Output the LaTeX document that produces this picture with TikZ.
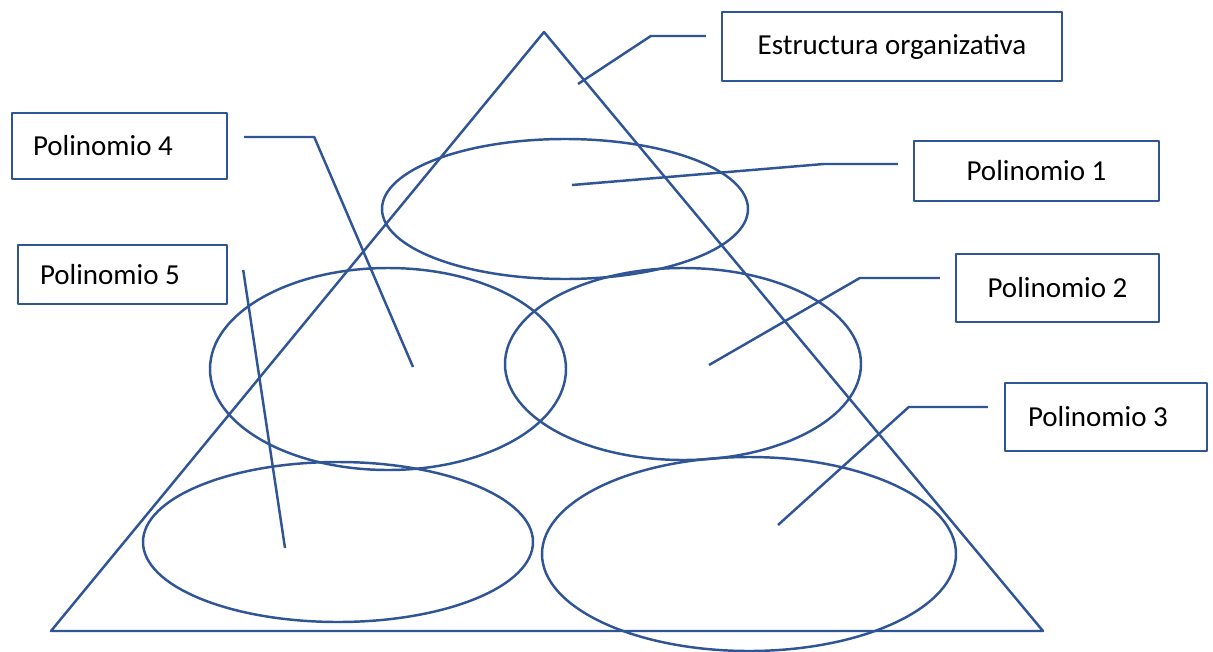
\documentclass[tikz,border=0pt]{standalone}
\usepackage{fontspec}
\setmainfont{Carlito}
\definecolor{orgblue}{HTML}{2F5597}
\tikzset{
  orgbox/.style={draw=orgblue, line width=1.4pt, fill=white, inner sep=0pt,
    font=\fontsize{16.5}{19}\selectfont},
  leader/.style={draw=orgblue, line width=1.4pt},
}

\begin{document}
\begin{tikzpicture}[x=0.02cm, y=-0.02cm, line join=round]
            \useasboundingbox[fill=white] (0,0) rectangle (1213,652);
            \draw[leader] (544,32) -- (1043,631) -- (51,631) -- cycle;
            \draw[leader] (565,209) ellipse [x radius=183, y radius=70];
            \draw[leader] (388,369) ellipse [x radius=178, y radius=101];
            \draw[leader] (683,364) ellipse [x radius=178, y radius=96];
            \draw[leader] (338,542) ellipse [x radius=195, y radius=80];
            \draw[leader] (749,554) ellipse [x radius=207, y radius=97];
            \node[orgbox, minimum width=6.8cm, minimum height=1.38cm] (est) at (892,46.5) {Estructura organizativa};
            \node[orgbox, minimum width=4.9cm, minimum height=1.2cm] (pol1) at (1036.5,171) {Polinomio 1};
            \node[orgbox, minimum width=4.06cm, minimum height=1.36cm] (pol2) at (1057.5,288) {Polinomio 2};
            \node[orgbox, inner xsep=0.46cm, text width=3.12cm, align=flush left, minimum height=1.36cm] (pol3) at (1106,417) {Polinomio 3};
            \node[orgbox, inner xsep=0.42cm, text width=3.46cm, align=flush left, minimum height=1.32cm] (pol4) at (119.5,146) {Polinomio 4};
            \node[orgbox, inner xsep=0.44cm, text width=3.3cm, align=flush left, minimum height=1.18cm] (pol5) at (122.5,274.5) {Polinomio 5};
            \coordinate (tip0) at (578,84);
            \coordinate (tip1) at (572,185);
            \coordinate (tip2) at (709,365);
            \coordinate (tip3) at (778,525);
            \coordinate (tip4) at (413,367);
            \coordinate (tip5) at (285,548);
            \draw[leader] ([xshift=-0.3cm,yshift=0.21cm]est.west) -- ++(-55,0) -- (tip0);
            \draw[leader] ([xshift=-0.3cm,yshift=0.14cm]pol1.west) -- ++(-74,0) -- (tip1);
            \draw[leader] ([xshift=-0.3cm,yshift=0.2cm]pol2.west) -- ++(-80,0) -- (tip2);
            \draw[leader] ([xshift=-0.32cm,yshift=0.2cm]pol3.west) -- ++(-79,0) -- (tip3);
            \draw[leader] ([xshift=0.32cm,yshift=0.18cm]pol4.east) -- ++(70,0) -- (tip4);
            \draw[leader] ([xshift=0.3cm,yshift=0.09cm]pol5.east) -- (tip5);
        \end{tikzpicture}
\end{document}
